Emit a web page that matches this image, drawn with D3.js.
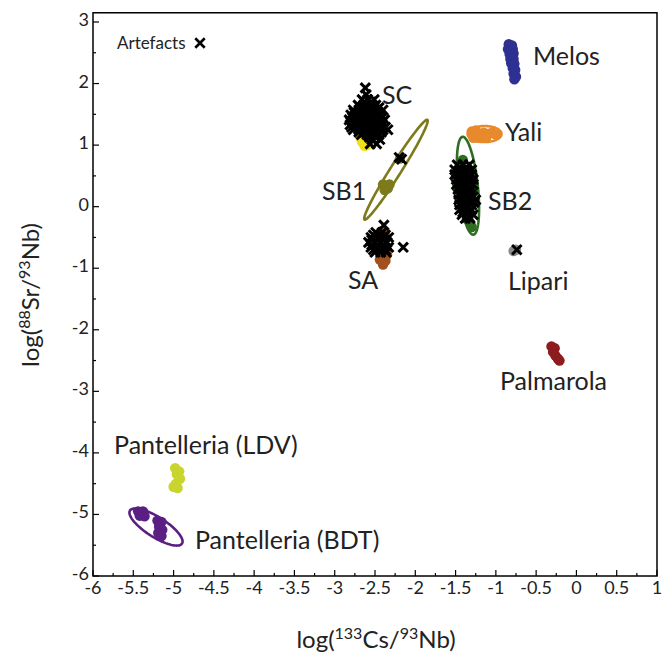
<!DOCTYPE html>
<html><head><meta charset="utf-8">
<script src="https://cdn.jsdelivr.net/npm/d3@7/dist/d3.min.js"></script>
<style>body{margin:0;background:#fff}svg{display:block}text{font-family:Lato,"Liberation Sans",Arial,sans-serif}</style>
</head><body><svg id="c" width="671" height="660"></svg>
<script>
// ---- data ----
const xTicks = [-6,-5.5,-5,-4.5,-4,-3.5,-3,-2.5,-2,-1.5,-1,-0.5,0,0.5,1];
const yTicks = [-6,-5,-4,-3,-2,-1,0,1,2,3];
const sourceNames = ["Melos","Yali","SB2","SC","SB1","SA","Lipari","Palmarola","Pantelleria (LDV)","Pantelleria (BDT)"];
const sourceColors = ["#2e3192","#e8892c","#2f6e22","#f0e01e","#7d7a1c","#a0501e","#8a8a8a","#8e1b1e","#c9d52e","#5b1e82"];
const melos = [[-0.84,2.64],[-0.80,2.62],[-0.85,2.56],[-0.79,2.56],[-0.83,2.48],[-0.78,2.49],[-0.82,2.40],[-0.78,2.40],[-0.81,2.33],[-0.77,2.32],[-0.79,2.25],[-0.76,2.22],[-0.78,2.16],[-0.75,2.11],[-0.77,2.07]];
const yali = [[-1.30,1.22],[-1.25,1.24],[-1.20,1.18],[-1.28,1.12],[-1.15,1.20],[-1.10,1.18],[-1.22,1.12],[-1.05,1.20],[-1.00,1.17],[-1.12,1.12]];
const sb2 = [[-1.32,-0.26],[-1.30,-0.33],[-1.48,0.30],[-1.27,0.26],[-1.41,0.76],[-1.36,-0.20]];
const sc = [[-2.66,1.05],[-2.63,0.99],[-2.58,1.06],[-2.68,1.12],[-2.60,1.00]];
const sb1 = [[-2.40,0.36],[-2.34,0.30],[-2.38,0.27],[-2.32,0.36],[-2.19,0.78],[-2.37,0.33]];
const sa = [[-2.42,-0.40],[-2.38,-0.44],[-2.40,-0.82],[-2.37,-0.88],[-2.40,-0.94],[-2.44,-0.86],[-2.35,-0.78]];
const lipari = [[-0.78,-0.72],[-0.75,-0.70]];
const palmarola = [[-0.31,-2.27],[-0.27,-2.30],[-0.29,-2.36],[-0.26,-2.42],[-0.23,-2.47],[-0.21,-2.50]];
const pantLDV = [[-4.98,-4.25],[-4.93,-4.30],[-4.96,-4.35],[-4.92,-4.42],[-4.97,-4.50],[-5.00,-4.55],[-4.95,-4.57]];
const pantBDT = [[-5.44,-4.95],[-5.38,-4.95],[-5.42,-5.02],[-5.36,-5.03],[-5.20,-5.10],[-5.15,-5.12],[-5.18,-5.20],[-5.14,-5.25],[-5.19,-5.30],[-5.15,-5.35]];
// confidence ellipses: centre, major semi-axis vector, minor semi-axis vector (data units)
const ellipseSources = ["Yali","SB2","SB1","Pantelleria (BDT)"];
const ellipseCentres = [[-1.14,1.18],[-1.346,0.34],[-2.24,0.60],[-5.218,-5.205]];
const ellipseMajor = [[0.21,0.0],[-0.062,0.795],[0.39,0.81],[0.323,-0.268]];
const ellipseMinor = [[0.0,0.13],[0.123,-0.016],[0.058,-0.047],[-0.0665,-0.137]];
const artefacts = [
 // SC
 [-2.62,1.93],[-2.61,1.82],
 [-2.66,1.74],[-2.59,1.74],[-2.51,1.74],
 [-2.63,1.70],[-2.55,1.70],
 [-2.71,1.65],[-2.64,1.65],[-2.56,1.65],[-2.49,1.65],
 [-2.68,1.61],[-2.60,1.61],[-2.52,1.61],[-2.45,1.61],
 [-2.77,1.57],[-2.70,1.57],[-2.62,1.57],[-2.55,1.57],[-2.48,1.57],[-2.40,1.57],
 [-2.76,1.53],[-2.69,1.53],[-2.61,1.53],[-2.54,1.53],[-2.46,1.53],
 [-2.80,1.49],[-2.72,1.49],[-2.65,1.49],[-2.57,1.49],[-2.50,1.49],[-2.43,1.49],
 [-2.78,1.45],[-2.71,1.45],[-2.63,1.45],[-2.56,1.45],[-2.48,1.45],[-2.41,1.45],
 [-2.82,1.41],[-2.75,1.41],[-2.67,1.41],[-2.60,1.41],[-2.52,1.41],[-2.45,1.41],[-2.38,1.41],
 [-2.78,1.37],[-2.71,1.37],[-2.63,1.37],[-2.56,1.37],[-2.48,1.37],[-2.41,1.37],
 [-2.81,1.33],[-2.74,1.33],[-2.66,1.33],[-2.59,1.33],[-2.51,1.33],[-2.44,1.33],
 [-2.79,1.29],[-2.72,1.29],[-2.64,1.29],[-2.57,1.29],[-2.50,1.29],[-2.43,1.29],[-2.37,1.29],
 [-2.77,1.25],[-2.70,1.25],[-2.62,1.25],[-2.55,1.25],[-2.48,1.25],[-2.40,1.25],[-2.34,1.25],
 [-2.70,1.21],[-2.63,1.21],[-2.56,1.21],[-2.49,1.21],[-2.42,1.21],
 [-2.67,1.17],[-2.60,1.17],[-2.52,1.17],[-2.45,1.17],
 [-2.57,1.13],[-2.49,1.13],
 [-2.54,1.09],[-2.44,1.09],[-2.56,1.02],[-2.48,1.02],
 // SB1
 [-2.20,0.80],[-2.17,0.77],
 // SA
 [-2.39,-0.30],[-2.15,-0.66],
 [-2.49,-0.42],[-2.41,-0.42],
 [-2.52,-0.46],[-2.44,-0.46],[-2.37,-0.46],
 [-2.55,-0.50],[-2.48,-0.50],[-2.40,-0.50],[-2.33,-0.50],
 [-2.54,-0.54],[-2.47,-0.54],[-2.39,-0.54],
 [-2.58,-0.58],[-2.50,-0.58],[-2.43,-0.58],[-2.35,-0.58],
 [-2.54,-0.62],[-2.47,-0.62],[-2.39,-0.62],
 [-2.55,-0.66],[-2.48,-0.66],[-2.40,-0.66],[-2.33,-0.66],
 [-2.52,-0.70],[-2.44,-0.70],[-2.37,-0.70],
 [-2.50,-0.74],[-2.43,-0.74],[-2.36,-0.74],
 // SB2
 [-1.48,0.68],[-1.41,0.68],[-1.33,0.68],
 [-1.45,0.64],[-1.37,0.64],
 [-1.51,0.60],[-1.43,0.60],[-1.36,0.60],[-1.30,0.60],
 [-1.47,0.56],[-1.40,0.56],[-1.33,0.56],
 [-1.51,0.52],[-1.43,0.52],[-1.36,0.52],[-1.30,0.52],
 [-1.47,0.48],[-1.40,0.48],[-1.33,0.48],
 [-1.49,0.44],[-1.42,0.44],[-1.35,0.44],[-1.28,0.44],
 [-1.46,0.40],[-1.38,0.40],[-1.31,0.40],
 [-1.49,0.36],[-1.42,0.36],[-1.35,0.36],[-1.28,0.36],
 [-1.45,0.32],[-1.38,0.32],[-1.31,0.32],
 [-1.47,0.28],[-1.40,0.28],[-1.32,0.28],
 [-1.43,0.24],[-1.35,0.24],
 [-1.46,0.20],[-1.38,0.20],[-1.31,0.20],
 [-1.42,0.16],[-1.35,0.16],[-1.28,0.16],
 [-1.46,0.11],[-1.38,0.11],[-1.31,0.11],[-1.25,0.11],
 [-1.42,0.07],[-1.34,0.07],[-1.27,0.07],
 [-1.45,0.03],[-1.37,0.03],[-1.30,0.03],
 [-1.41,-0.01],[-1.34,-0.01],
 [-1.45,-0.05],[-1.37,-0.05],[-1.30,-0.05],
 [-1.41,-0.09],[-1.33,-0.09],
 [-1.42,-0.13],[-1.35,-0.13],[-1.28,-0.13],
 [-1.35,-0.16],
 [-1.38,-0.19],[-1.32,-0.19],
 // Lipari
 [-0.74,-0.70]
];
const labelNames = ["Melos","Yali","SC","SB1","SB2","SA","Lipari","Palmarola","Pantelleria (LDV)","Pantelleria (BDT)"];
const labelAnchors = [[-0.539,2.30],[-0.886,1.07],[-2.413,1.67],[-3.158,0.114],[-1.097,-0.049],[-2.835,-1.33],[-0.849,-1.346],[-0.949,-2.983],[-5.739,-4.021],[-4.734,-5.562]];

// ---- chart ----
const svg = d3.select("#c");
const x = d3.scaleLinear().domain([-6,1]).range([93,657]);
const y = d3.scaleLinear().domain([-6,3]).range([576,22]);
const yTop = 3.15;
const colorOf = n => sourceColors[sourceNames.indexOf(n)];
const groups = [["Melos",melos],["Yali",yali],["SB2",sb2],["SC",sc],["SB1",sb1],["SA",sa],["Lipari",lipari],["Palmarola",palmarola],["Pantelleria (LDV)",pantLDV],["Pantelleria (BDT)",pantBDT]];

// ticks (inward)
const minorX = d3.range(-6,1.001,0.25);
const minorY = d3.range(-6,3.001,0.5);
const isMajor = (arr,d)=>arr.some(t=>Math.abs(t-d)<1e-6);
svg.append("g").selectAll("line").data(minorX).join("line").attr("x1",d=>x(d)).attr("x2",d=>x(d)).attr("y1",y(-6)).attr("y2",d=>y(-6)-(isMajor(xTicks,d)?6:3)).attr("stroke","#000").attr("stroke-width",1.2);
svg.append("g").selectAll("line").data(minorY).join("line").attr("y1",d=>y(d)).attr("y2",d=>y(d)).attr("x1",x(-6)).attr("x2",d=>x(-6)+(isMajor(yTicks,d)?6:3)).attr("stroke","#000").attr("stroke-width",1.2);
// frame
svg.append("rect").attr("x",x(-6)).attr("y",y(yTop)).attr("width",x(1)-x(-6)).attr("height",y(-6)-y(yTop)).attr("fill","none").attr("stroke","#000").attr("stroke-width",1.5);
// tick labels
svg.append("g").selectAll("text").data(xTicks).join("text").attr("x",d=>x(d)).attr("y",y(-6)+18).attr("text-anchor","middle").attr("font-size",18).attr("fill","#222").text(d=>d);
svg.append("g").selectAll("text").data(yTicks).join("text").attr("x",x(-6)-4).attr("y",d=>y(d)+4).attr("text-anchor","end").attr("font-size",18).attr("fill","#222").text(d=>d);

// ellipses
const ts = d3.range(0,2*Math.PI+0.01,Math.PI/60);
ellipseSources.forEach((n,i)=>{
  const c=ellipseCentres[i],u=ellipseMajor[i],v=ellipseMinor[i];
  const pts = ts.map(t=>[x(c[0]+Math.cos(t)*u[0]+Math.sin(t)*v[0]), y(c[1]+Math.cos(t)*u[1]+Math.sin(t)*v[1])]);
  svg.append("path").attr("d",d3.line()(pts)+"Z").attr("fill","none").attr("stroke",colorOf(n)).attr("stroke-width",2.6);
});
// source points
groups.forEach(([n,arr])=>{
  svg.append("g").selectAll("circle").data(arr).join("circle").attr("cx",d=>x(d[0])).attr("cy",d=>y(d[1])).attr("r",5.2).attr("fill",colorOf(n));
});
// artefacts
const sym = d3.symbol().type(d3.symbolX).size(60);
svg.append("g").selectAll("path").data(artefacts).join("path").attr("transform",d=>`translate(${x(d[0])},${y(d[1])})`).attr("d",sym).attr("stroke","#000").attr("stroke-width",3).attr("fill","none");

// group labels
svg.append("g").selectAll("text").data(labelNames).join("text").attr("x",(d,i)=>x(labelAnchors[i][0])).attr("y",(d,i)=>y(labelAnchors[i][1])).attr("font-size",25).attr("fill","#222").text(d=>d);

// legend
svg.append("text").attr("x",117).attr("y",49).attr("font-size",17).attr("fill","#222").text("Artefacts");
svg.append("path").attr("transform","translate(200,43)").attr("d",sym).attr("stroke","#000").attr("stroke-width",2.6).attr("fill","none");

// axis titles
const xt = svg.append("text").attr("x",376).attr("y",648).attr("text-anchor","middle").attr("font-size",24).attr("fill","#222");
xt.append("tspan").text("log(");
xt.append("tspan").attr("font-size",16).attr("dy",-9).text("133");
xt.append("tspan").attr("dy",9).text("Cs/");
xt.append("tspan").attr("font-size",16).attr("dy",-9).text("93");
xt.append("tspan").attr("dy",9).text("Nb)");
const yt = svg.append("text").attr("transform","translate(39,295) rotate(-90)").attr("text-anchor","middle").attr("font-size",24).attr("fill","#222");
yt.append("tspan").text("log(");
yt.append("tspan").attr("font-size",16).attr("dy",-9).text("88");
yt.append("tspan").attr("dy",9).text("Sr/");
yt.append("tspan").attr("font-size",16).attr("dy",-9).text("93");
yt.append("tspan").attr("dy",9).text("Nb)");
</script></body></html>
